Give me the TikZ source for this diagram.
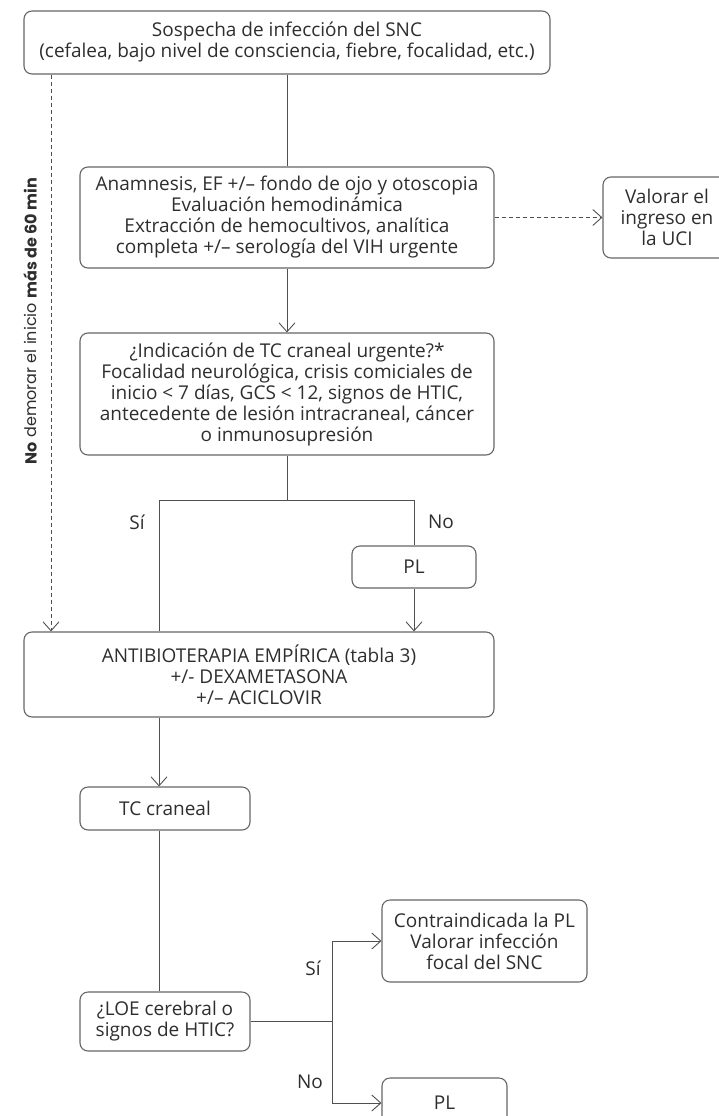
\documentclass[tikz,border=0pt]{standalone}
\usepackage{fontspec}
\setmainfont{Open Sans}
\newfontfamily\vfont{Poppins}
\usetikzlibrary{arrows.meta}
\definecolor{txt}{HTML}{2E2E2E}
\definecolor{ln}{HTML}{505050}
\definecolor{bd}{HTML}{666666}
\begin{document}
\begin{tikzpicture}[x=1pt,y=-1pt,
  box/.style={draw=bd, line width=1.1pt, rounded corners=8pt, text=txt, align=center, inner sep=0pt, font=\fontsize{19}{21}\selectfont},
  conn/.style={draw=ln, line width=0.9pt},
  arr/.style={conn, -{Straight Barb[length=9pt,width=16pt]}},
  lbl/.style={text=txt, font=\fontsize{19}{21}\selectfont}]
\useasboundingbox (0,0) rectangle (718,1116);
% nodes
\node[box, minimum width=526pt, minimum height=63pt] (b1) at (287,42.5)
  {Sospecha de infección del SNC\\(cefalea, bajo nivel de consciencia, fiebre, focalidad, etc.)};
\node[box, minimum width=414pt, minimum height=101pt] (b2) at (287,217.5)
  {Anamnesis, EF +/– fondo de ojo y otoscopia\\Evaluación hemodinámica\\Extracción de hemocultivos, analítica\\completa +/– serología del VIH urgente};
\node[box, minimum width=128pt, minimum height=81pt] (uci) at (667,217.5)
  {Valorar el\\ingreso en\\la UCI};
\node[box, minimum width=414pt, minimum height=122pt] (b3) at (287,394)
  {¿Indicación de TC craneal urgente?*\\Focalidad neurológica, crisis comiciales de\\inicio < 7 días, GCS < 12, signos de HTIC,\\antecedente de lesión intracraneal, cáncer\\o inmunosupresión};
\node[box, minimum width=124pt, minimum height=42pt] (plA) at (414,567) {PL};
\node[box, minimum width=470pt, minimum height=85pt] (b4) at (259,674.5)
  {ANTIBIOTERAPIA EMPÍRICA (tabla 3)\\+/- DEXAMETASONA\\+/– ACICLOVIR};
\node[box, minimum width=170pt, minimum height=43pt] (tc) at (165,808.5) {TC craneal};
\node[box, minimum width=170pt, minimum height=59pt] (loe) at (165,1021.5)
  {¿LOE cerebral o\\signos de HTIC?};
\node[box, minimum width=205pt, minimum height=82pt] (contra) at (484.5,941)
  {Contraindicada la PL\\Valorar infección\\focal del SNC};
\node[box, minimum width=125pt, minimum height=50pt] (plB) at (444.5,1103) {PL};
% vertical text
\node[rotate=90, text=txt, font=\vfont\fontsize{16}{16}\selectfont] (vt) at (30,321)
  {\textbf{No} demorar el inicio \textbf{más de 60 min}};
% helper coordinates
\coordinate (dl) at (51,0);
\coordinate (sy) at (159,0);
\coordinate (jy) at (0,500);
\coordinate (vx) at (332,0);
% connectors
\draw[conn] (b1.south) -- (b2.north);
\draw[arr, dashed, dash pattern=on 4pt off 3pt] (b1.south -| dl) -- (b4.north -| dl);
\draw[arr, dashed, dash pattern=on 4pt off 3pt] (b2.east) -- (uci.west);
\draw[arr] (b2.south) -- (b3.north);
\draw[conn] (b3.south) -- (b3.south |- jy);
\draw[conn] (sy |- jy) -- (plA.north |- jy);
\draw[conn] (sy |- jy) -- (b4.north -| sy);
\draw[conn] (plA.north |- jy) -- (plA.north);
\draw[arr] (plA.south) -- (b4.north -| plA.south);
\draw[arr] (b4.south -| sy) -- (tc.north -| sy);
\draw[conn] (tc.south -| sy) -- (loe.north -| sy);
\draw[conn] (loe.east) -- (loe.east -| vx);
\draw[conn] (contra.west -| vx) -- (plB.west -| vx);
\draw[arr] (contra.west -| vx) -- (contra.west);
\draw[arr] (plB.west -| vx) -- (plB.west);
% labels
\node[lbl] (s1) at (137,522) {Sí};
\node[lbl] (n1) at (441,522) {No};
\node[lbl] (s2) at (313,968) {Sí};
\node[lbl] (n2) at (310,1082) {No};
\end{tikzpicture}
\end{document}
